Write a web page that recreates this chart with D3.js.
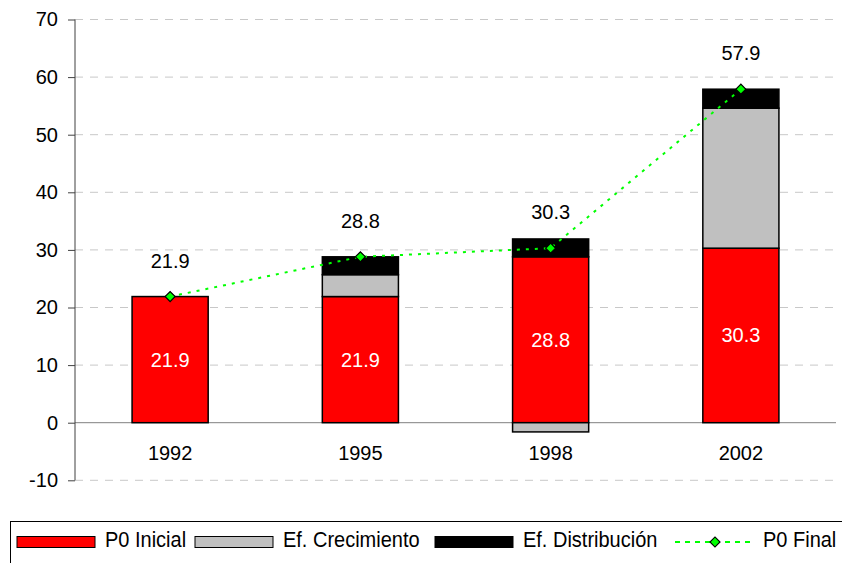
<!DOCTYPE html>
<html lang="es">
<head>
<meta charset="utf-8">
<title>P0 descomposición</title>
<script src="https://cdn.jsdelivr.net/npm/d3@7"></script>
<style>
  body { margin: 0; background: #fff; }
  svg { font-family: "Liberation Sans", Arial, sans-serif; }
  .axis path { display: none; }
  .axis line { stroke: #404040; }
  .axis text { font-size: 20px; fill: #000; }
</style>
</head>
<body>
<div id="chart"></div>
<script>
// data
const years = ["1992", "1995", "1998", "2002"];
const p0Inicial = [21.9, 21.9, 28.8, 30.3];
const efCrecimiento = [0, 3.8, -1.6, 24.3];
const efDistribucion = [0, 3.1, 3.1, 3.3];
const p0Final = [21.9, 28.8, 30.3, 57.9];
const yTicks = [-10, 0, 10, 20, 30, 40, 50, 60, 70];
const legendLabels = ["P0 Inicial", "Ef. Crecimiento", "Ef. Distribución", "P0 Final"];

const width = 842, height = 563;
const margin = { top: 19.5, right: 6, bottom: 82.7, left: 75 };

const svg = d3.select("#chart").append("svg")
  .attr("width", width)
  .attr("height", height);

const x = d3.scaleBand()
  .domain(years)
  .range([margin.left, width - margin.right])
  .paddingInner(0.6)
  .paddingOuter(0.3);

const y = d3.scaleLinear()
  .domain([-10, 70])
  .range([height - margin.bottom, margin.top]);

// gridlines
svg.append("g")
  .selectAll("line")
  .data(yTicks.filter(d => d !== 0))
  .join("line")
  .attr("x1", margin.left)
  .attr("x2", width - margin.right)
  .attr("y1", d => y(d))
  .attr("y2", d => y(d))
  .attr("stroke", "#c8c8c8")
  .attr("stroke-dasharray", "8,7");

// zero line
svg.append("line")
  .attr("x1", margin.left).attr("x2", width - margin.right)
  .attr("y1", y(0)).attr("y2", y(0))
  .attr("stroke", "#808080");

// y axis
svg.append("g")
  .attr("class", "axis")
  .attr("transform", `translate(${margin.left},0)`)
  .call(d3.axisLeft(y).tickValues(yTicks).tickSize(7).tickPadding(10)
    .tickFormat(d => String(d)));
svg.append("line")
  .attr("x1", margin.left).attr("x2", margin.left)
  .attr("y1", y(70)).attr("y2", y(-10))
  .attr("stroke", "#404040");

// stacked bars
const rows = years.map((yr, i) => ({
  year: yr, ini: p0Inicial[i], cre: efCrecimiento[i], dis: efDistribucion[i]
}));
const keys = ["ini", "cre", "dis"];
const colors = { ini: "#ff0000", cre: "#c0c0c0", dis: "#000000" };
const series = d3.stack().keys(keys).offset(d3.stackOffsetDiverging)(rows);

svg.append("g")
  .selectAll("g")
  .data(series)
  .join("g")
  .attr("fill", d => colors[d.key])
  .selectAll("rect")
  .data(d => d.filter(s => s[1] - s[0] !== 0))
  .join("rect")
  .attr("x", d => x(d.data.year))
  .attr("width", x.bandwidth())
  .attr("y", d => y(Math.max(d[0], d[1])))
  .attr("height", d => Math.abs(y(d[0]) - y(d[1])))
  .attr("stroke", "#000")
  .attr("stroke-width", 1.5);

// labels inside the red bars
svg.append("g")
  .selectAll("text")
  .data(rows)
  .join("text")
  .attr("x", d => x(d.year) + x.bandwidth() / 2)
  .attr("y", d => y(d.ini / 2))
  .attr("dy", "0.35em")
  .attr("text-anchor", "middle")
  .attr("fill", "#fff")
  .style("font-size", "20px")
  .text(d => d3.format(".1f")(d.ini));

// P0 final line
const line = d3.line()
  .x((d, i) => x(years[i]) + x.bandwidth() / 2)
  .y(d => y(d));

svg.append("path")
  .datum(p0Final)
  .attr("d", line)
  .attr("fill", "none")
  .attr("stroke", "#00ff00")
  .attr("stroke-width", 2)
  .attr("stroke-dasharray", "3,6");

svg.append("g")
  .selectAll("path")
  .data(p0Final)
  .join("path")
  .attr("transform", (d, i) => `translate(${x(years[i]) + x.bandwidth() / 2},${y(d)}) rotate(45)`)
  .attr("d", d3.symbol().type(d3.symbolSquare).size(50))
  .attr("fill", "#00ff00")
  .attr("stroke", "#000")
  .attr("stroke-width", 1.2);

// P0 final labels
svg.append("g")
  .selectAll("text")
  .data(p0Final)
  .join("text")
  .attr("x", (d, i) => x(years[i]) + x.bandwidth() / 2)
  .attr("y", d => y(d) - 36)
  .attr("dy", "0.35em")
  .attr("text-anchor", "middle")
  .style("font-size", "20px")
  .text(d => d3.format(".1f")(d));

// x labels
svg.append("g")
  .selectAll("text")
  .data(years)
  .join("text")
  .attr("x", d => x(d) + x.bandwidth() / 2)
  .attr("y", 453)
  .attr("dy", "0.35em")
  .attr("text-anchor", "middle")
  .style("font-size", "20px")
  .text(d => d);

// legend
svg.append("rect")
  .attr("x", 10.5).attr("y", 521.5)
  .attr("width", 840).attr("height", 50)
  .attr("fill", "none")
  .attr("stroke", "#000");

const legendX = [17, 195, 435, 675];
const legendFill = ["#ff0000", "#c0c0c0", "#000000", null];
const lg = svg.append("g")
  .selectAll("g")
  .data(legendLabels)
  .join("g")
  .attr("transform", (d, i) => `translate(${legendX[i]},542)`);

lg.filter((d, i) => legendFill[i])
  .append("rect")
  .attr("x", 0).attr("y", -5.5)
  .attr("width", 78).attr("height", 11)
  .attr("fill", d => legendFill[legendLabels.indexOf(d)])
  .attr("stroke", "#000")
  .attr("stroke-width", 1);

const lineItem = lg.filter((d, i) => !legendFill[i]);
lineItem.append("line")
  .attr("x1", 0).attr("x2", 78)
  .attr("stroke", "#00ff00")
  .attr("stroke-width", 2)
  .attr("stroke-dasharray", "5,5");
lineItem.append("path")
  .attr("transform", "translate(40,0) rotate(45)")
  .attr("d", d3.symbol().type(d3.symbolSquare).size(50))
  .attr("fill", "#00ff00")
  .attr("stroke", "#000")
  .attr("stroke-width", 1.2);

lg.append("text")
  .attr("x", 88)
  .attr("y", 5)
  .attr("transform", "scale(1,1.08)")
  .style("font-size", "20px")
  .text(d => d);
</script>
</body>
</html>
